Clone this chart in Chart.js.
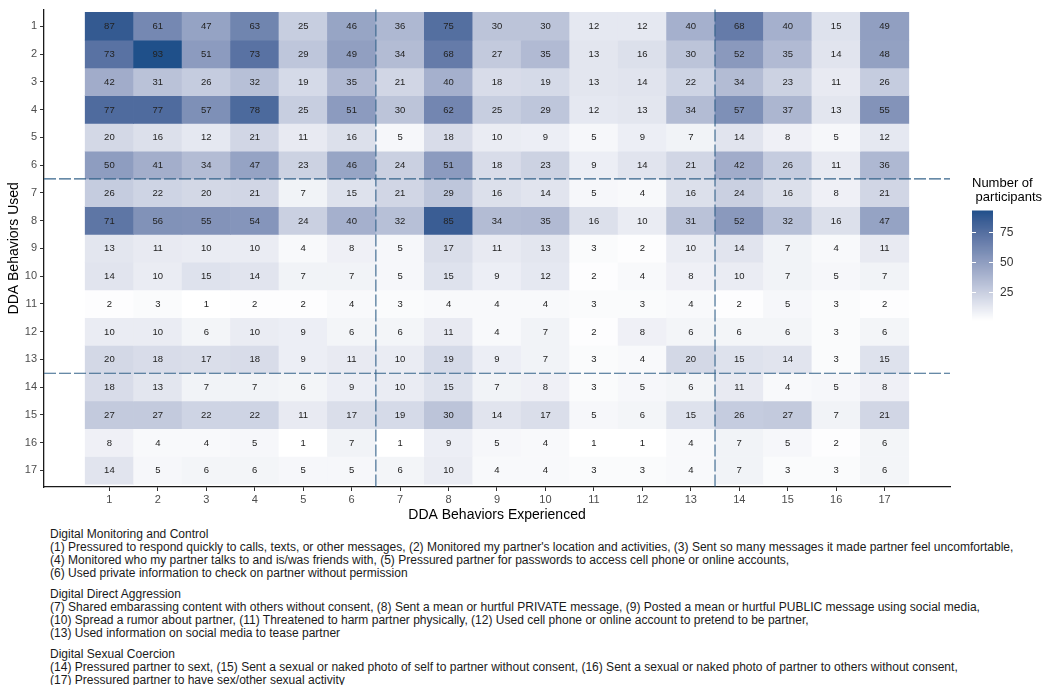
<!DOCTYPE html>
<html>
<head>
<meta charset="utf-8">
<script src="https://cdn.jsdelivr.net/npm/chart.js@4.4.1/dist/chart.umd.min.js"></script>
<style>
  body { margin: 0; background: #fff; }
  #wrap { position: relative; width: 1050px; height: 685px; overflow: hidden; }
  #chartBox { position: absolute; left: 0; top: 0; width: 1050px; height: 525px; }
  #caption {
    position: absolute; left: 50px; top: 528px;
    font-family: "Liberation Sans Narrow", "Liberation Sans", Arial, sans-serif;
    font-size: 12px; line-height: 12.9px; color: #1a1a1a;
    white-space: nowrap; transform-origin: 0 0;
  }
  #caption p { margin: 0 0 8.5px 0; }
</style>
</head>
<body>
<div id="wrap">
  <div id="chartBox"><canvas id="heatmap"></canvas></div>
  <div id="caption">
    <p>Digital Monitoring and Control<br>
    <span id="longLine">(1) Pressured to respond quickly to calls, texts, or other messages, (2) Monitored my partner's location and activities, (3) Sent so many messages it made partner feel uncomfortable,</span><br>
    (4) Monitored who my partner talks to and is/was friends with, (5) Pressured partner for passwords to access cell phone or online accounts,<br>
    (6) Used private information to check on partner without permission</p>
    <p>Digital Direct Aggression<br>
    (7) Shared embarassing content with others without consent, (8) Sent a mean or hurtful PRIVATE message, (9) Posted a mean or hurtful PUBLIC message using social media,<br>
    (10) Spread a rumor about partner, (11) Threatened to harm partner physically, (12) Used cell phone or online account to pretend to be partner,<br>
    (13) Used information on social media to tease partner</p>
    <p>Digital Sexual Coercion<br>
    (14) Pressured partner to sext, (15) Sent a sexual or naked photo of self to partner without consent, (16) Sent a sexual or naked photo of partner to others without consent,<br>
    (17) Pressured partner to have sex/other sexual activity</p>
  </div>
</div>
<script>
// behaviour numbers, used on both axes
const behaviorIds = [1, 2, 3, 4, 5, 6, 7, 8, 9, 10, 11, 12, 13, 14, 15, 16, 17];
// boundaries between the three behaviour groups
const groupBreaks = [6.5, 13.5];
const legendTicks = [25, 50, 75];

// counts: one row per behaviour used, columns = behaviour experienced 1..17
const used1  = [87, 61, 47, 63, 25, 46, 36, 75, 30, 30, 12, 12, 40, 68, 40, 15, 49];
const used2  = [73, 93, 51, 73, 29, 49, 34, 68, 27, 35, 13, 16, 30, 52, 35, 14, 48];
const used3  = [42, 31, 26, 32, 19, 35, 21, 40, 18, 19, 13, 14, 22, 34, 23, 11, 26];
const used4  = [77, 77, 57, 78, 25, 51, 30, 62, 25, 29, 12, 13, 34, 57, 37, 13, 55];
const used5  = [20, 16, 12, 21, 11, 16, 5, 18, 10, 9, 5, 9, 7, 14, 8, 5, 12];
const used6  = [50, 41, 34, 47, 23, 46, 24, 51, 18, 23, 9, 14, 21, 42, 26, 11, 36];
const used7  = [26, 22, 20, 21, 7, 15, 21, 29, 16, 14, 5, 4, 16, 24, 16, 8, 21];
const used8  = [71, 56, 55, 54, 24, 40, 32, 85, 34, 35, 16, 10, 31, 52, 32, 16, 47];
const used9  = [13, 11, 10, 10, 4, 8, 5, 17, 11, 13, 3, 2, 10, 14, 7, 4, 11];
const used10 = [14, 10, 15, 14, 7, 7, 5, 15, 9, 12, 2, 4, 8, 10, 7, 5, 7];
const used11 = [2, 3, 1, 2, 2, 4, 3, 4, 4, 4, 3, 3, 4, 2, 5, 3, 2];
const used12 = [10, 10, 6, 10, 9, 6, 6, 11, 4, 7, 2, 8, 6, 6, 6, 3, 6];
const used13 = [20, 18, 17, 18, 9, 11, 10, 19, 9, 7, 3, 4, 20, 15, 14, 3, 15];
const used14 = [18, 13, 7, 7, 6, 9, 10, 15, 7, 8, 3, 5, 6, 11, 4, 5, 8];
const used15 = [27, 27, 22, 22, 11, 17, 19, 30, 14, 17, 5, 6, 15, 26, 27, 7, 21];
const used16 = [8, 4, 4, 5, 1, 7, 1, 9, 5, 4, 1, 1, 4, 7, 5, 2, 6];
const used17 = [14, 5, 6, 6, 5, 5, 6, 10, 4, 4, 3, 3, 4, 7, 3, 3, 6];
const usedRows = [used1, used2, used3, used4, used5, used6, used7, used8, used9,
                  used10, used11, used12, used13, used14, used15, used16, used17];

const FONT = '"Liberation Sans", Arial, sans-serif';
const allCounts = usedRows.flat();
const lo = Math.min(...allCounts), hi = Math.max(...allCounts);

// white -> blue gradient, interpolated in Lab like ggplot does
function toLin(c) { c /= 255; return c <= 0.04045 ? c / 12.92 : Math.pow((c + 0.055) / 1.055, 2.4); }
function toSrgb(c) { c = c <= 0.0031308 ? 12.92 * c : 1.055 * Math.pow(c, 1 / 2.4) - 0.055; return Math.round(Math.max(0, Math.min(1, c)) * 255); }
function hexToLab(hex) {
  const n = parseInt(hex.slice(1), 16);
  const r = toLin(n >> 16 & 255), g = toLin(n >> 8 & 255), b = toLin(n & 255);
  const X = (0.4124 * r + 0.3576 * g + 0.1805 * b) / 0.95047;
  const Y = 0.2126 * r + 0.7152 * g + 0.0722 * b;
  const Z = (0.0193 * r + 0.1192 * g + 0.9505 * b) / 1.08883;
  const f = t => t > 0.008856 ? Math.cbrt(t) : 7.787 * t + 16 / 116;
  return [116 * f(Y) - 16, 500 * (f(X) - f(Y)), 200 * (f(Y) - f(Z))];
}
function labToRgb(L, A, B) {
  const fy = (L + 16) / 116, fx = fy + A / 500, fz = fy - B / 200;
  const inv = t => t * t * t > 0.008856 ? t * t * t : (t - 16 / 116) / 7.787;
  const X = inv(fx) * 0.95047, Y = inv(fy), Z = inv(fz) * 1.08883;
  const r = 3.2406 * X - 1.5372 * Y - 0.4986 * Z;
  const g = -0.9689 * X + 1.8758 * Y + 0.0415 * Z;
  const b = 0.0557 * X - 0.2040 * Y + 1.0570 * Z;
  return 'rgb(' + toSrgb(r) + ',' + toSrgb(g) + ',' + toSrgb(b) + ')';
}
const labLow = hexToLab('#ffffff'), labHigh = hexToLab('#1f508a');
function fillFor(v) {
  const t = (v - lo) / (hi - lo);
  return labToRgb(labLow[0] + t * (labHigh[0] - labLow[0]),
                  labLow[1] + t * (labHigh[1] - labLow[1]),
                  labLow[2] + t * (labHigh[2] - labLow[2]));
}

// one dataset per row, each tile is a floating bar one unit tall
const datasets = usedRows.map((row, r) => ({
  label: 'Used ' + behaviorIds[r],
  counts: row,
  data: row.map((n, c) => ({ x: behaviorIds[c], y: [behaviorIds[r] - 0.5, behaviorIds[r] + 0.5] })),
  backgroundColor: row.map(fillFor),
  borderWidth: 0,
  grouped: false,
  barPercentage: 1,
  categoryPercentage: 1
}));

const heatExtras = {
  id: 'heatExtras',
  afterDatasetsDraw(chart) {
    const ctx = chart.ctx, a = chart.chartArea;
    const xs = chart.scales.x, ys = chart.scales.y;
    // group divider lines
    ctx.save();
    ctx.strokeStyle = '#36648b';
    ctx.lineWidth = 1.1;
    ctx.setLineDash([12, 3]);
    groupBreaks.forEach(b => {
      const px = xs.getPixelForValue(b);
      ctx.beginPath(); ctx.moveTo(px, a.top); ctx.lineTo(px, a.bottom); ctx.stroke();
      const py = ys.getPixelForValue(b);
      ctx.beginPath(); ctx.moveTo(a.left, py); ctx.lineTo(a.right, py); ctx.stroke();
    });
    ctx.restore();

    // counts in the tiles
    ctx.save();
    ctx.font = '9.5px ' + FONT;
    ctx.fillStyle = '#222';
    ctx.textAlign = 'center';
    ctx.textBaseline = 'middle';
    chart.data.datasets.forEach((ds, i) => {
      chart.getDatasetMeta(i).data.forEach((bar, j) => {
        const p = bar.getCenterPoint();
        ctx.fillText(String(ds.counts[j]), p.x, p.y + 0.5);
      });
    });
    ctx.restore();
  },
  afterDraw(chart) {
    // colour bar legend
    const ctx = chart.ctx, a = chart.chartArea;
    const x0 = a.right + 22, w = 21, top = 210.5, h = 110;
    const yFor = v => top + (hi - v) / (hi - lo) * h;
    ctx.save();
    ctx.fillStyle = '#000';
    ctx.font = '13px ' + FONT;
    ctx.textAlign = 'left';
    ctx.textBaseline = 'middle';
    ctx.fillText('Number of', x0, 183);
    ctx.fillText(' participants', x0, 197);
    for (let k = 0; k < h; k++) {
      ctx.fillStyle = fillFor(hi - (k + 0.5) / h * (hi - lo));
      ctx.fillRect(x0, top + k, w, 1.5);
    }
    ctx.strokeStyle = '#fff';
    ctx.lineWidth = 1;
    ctx.font = '12px ' + FONT;
    ctx.fillStyle = '#333';
    legendTicks.forEach(v => {
      const y = Math.round(yFor(v)) + 0.5;
      ctx.beginPath();
      ctx.moveTo(x0, y); ctx.lineTo(x0 + 4, y);
      ctx.moveTo(x0 + w - 4, y); ctx.lineTo(x0 + w, y);
      ctx.stroke();
      ctx.fillText(String(v), x0 + w + 7, y);
    });
    ctx.restore();
  }
};

const setTicks = s => { s.ticks = behaviorIds.map(v => ({ value: v })); };

var ctx = document.getElementById('heatmap').getContext('2d');
var heatmap = new Chart(ctx, {
  type: 'bar',
  data: { datasets: datasets },
  plugins: [heatExtras],
  options: {
    responsive: true,
    maintainAspectRatio: false,
    animation: false,
    layout: { padding: { top: 7, right: 100, bottom: 0, left: 0 } },
    plugins: {
      legend: { display: false },
      tooltip: { enabled: false }
    },
    scales: {
      x: {
        type: 'linear',
        offset: false,
        min: -0.35,
        max: 18.35,
        afterBuildTicks: setTicks,
        afterFit: s => { s.height = 38; },
        grid: { display: true, offset: false, drawOnChartArea: false, drawTicks: true, tickLength: 4, color: '#333' },
        border: { display: true, color: '#1a1a1a', width: 1.3 },
        ticks: { color: '#4d4d4d', font: { size: 11, family: FONT }, padding: 2, maxRotation: 0, autoSkip: false },
        title: { display: true, text: 'DDA Behaviors Experienced', color: '#000', font: { size: 14, family: FONT }, padding: { top: 0, bottom: 1 } }
      },
      y: {
        type: 'linear',
        reverse: true,
        min: 0.4,
        max: 17.6,
        afterBuildTicks: setTicks,
        afterFit: s => { s.width = 44; },
        grid: { display: true, drawOnChartArea: false, drawTicks: true, tickLength: 4, color: '#333' },
        border: { display: true, color: '#1a1a1a', width: 1.3 },
        ticks: { color: '#4d4d4d', font: { size: 11, family: FONT }, padding: 3, autoSkip: false },
        title: { display: true, text: 'DDA Behaviors Used', color: '#000', font: { size: 14, family: FONT }, padding: { top: 6, bottom: 0 } }
      }
    }
  }
});

// squeeze the caption to the narrow width of the original
var cap = document.getElementById('caption');
var longLine = document.getElementById('longLine');
cap.style.transform = 'scaleX(' + (963 / longLine.offsetWidth) + ')';
</script>
</body>
</html>
